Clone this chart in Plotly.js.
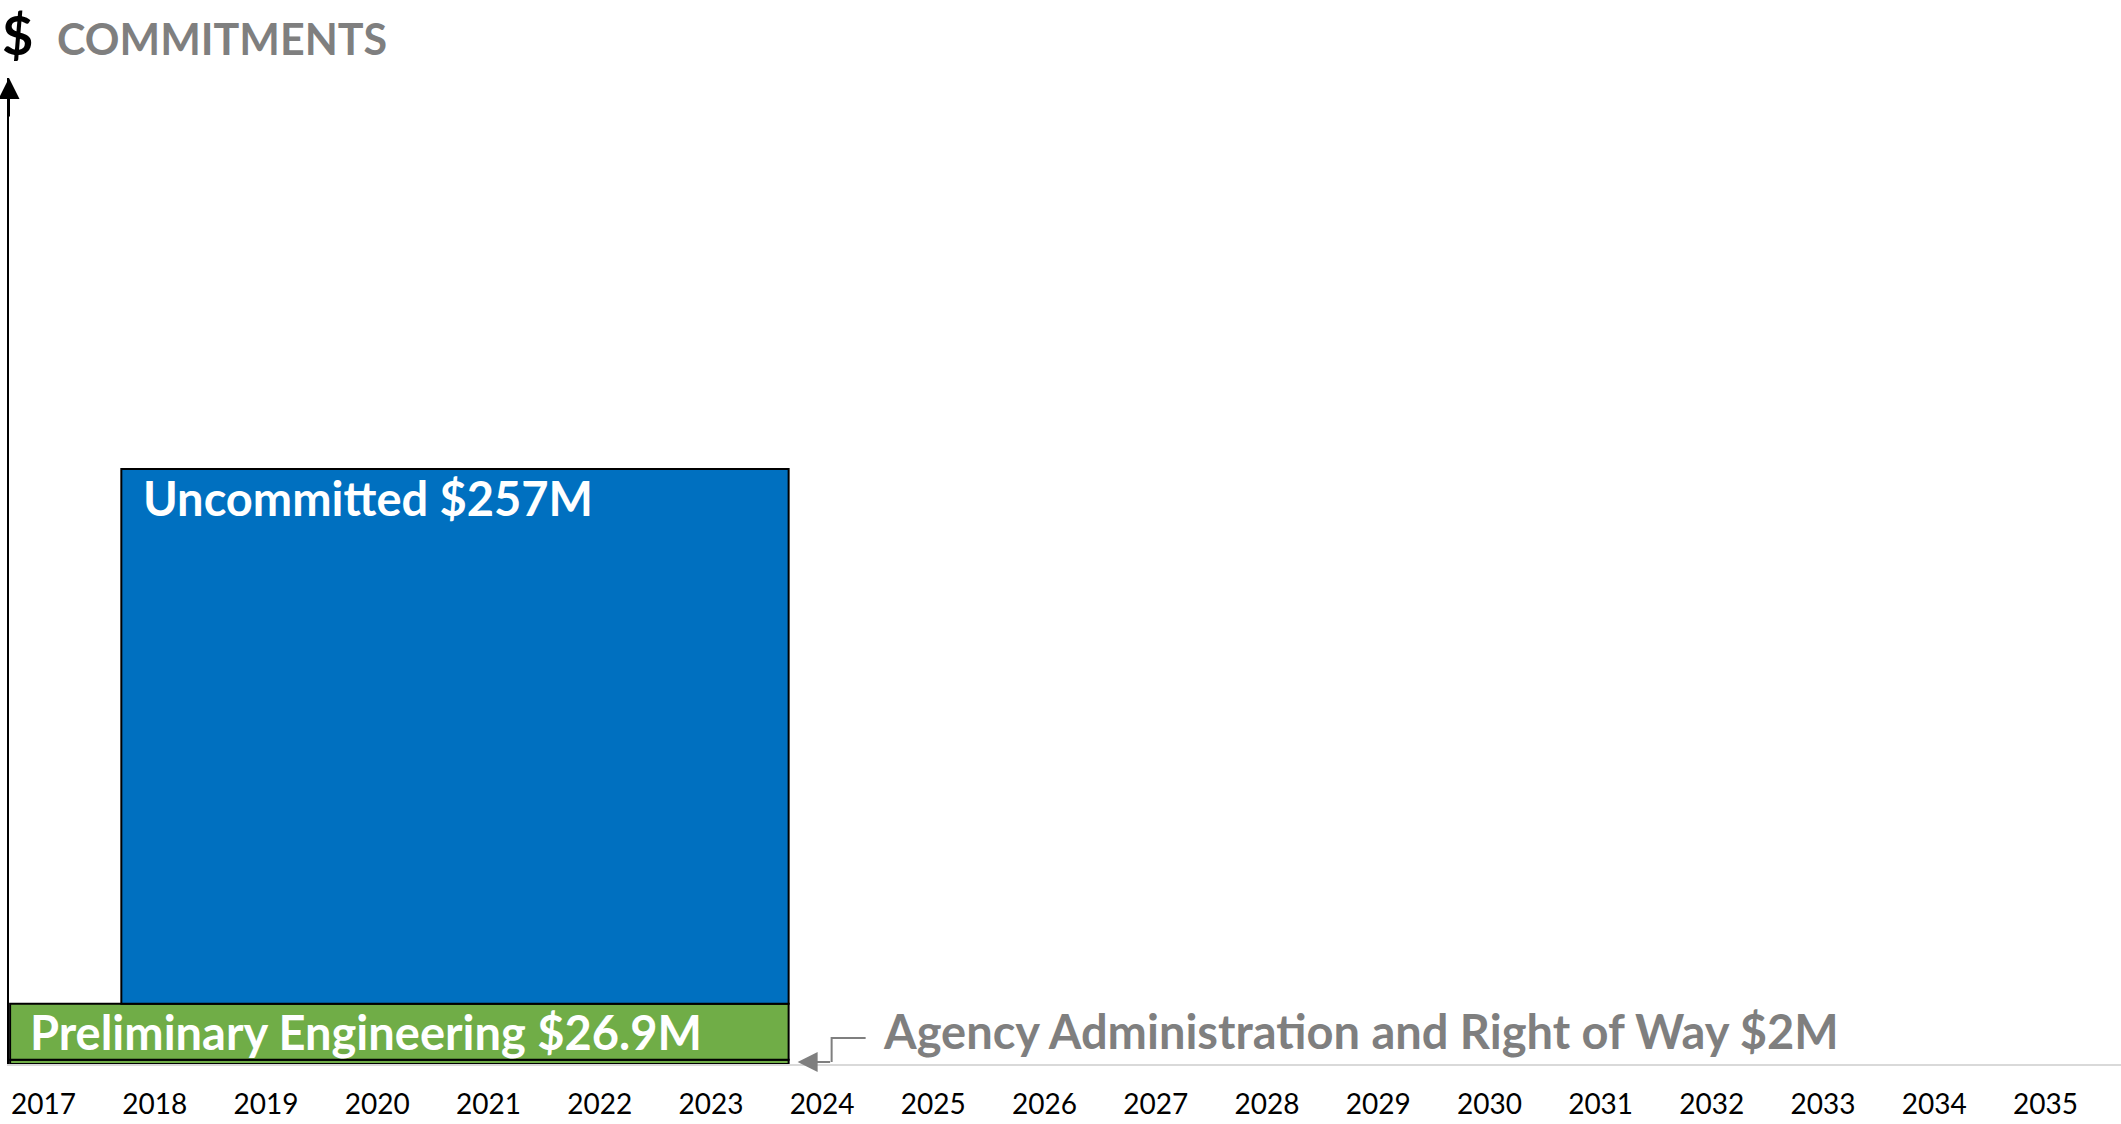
<!DOCTYPE html>
<html>
<head>
<meta charset="utf-8">
<script src="https://cdn.plot.ly/plotly-3.0.1.min.js"></script>
<style>
  html, body { margin: 0; padding: 0; background: #ffffff; }
  #chart { width: 2121px; height: 1124px; }
</style>
</head>
<body>
<div id="chart"></div>
<script>
// ---- Data ----
const segments = ['Agency Administration and Right of Way', 'Preliminary Engineering', 'Uncommitted'];
const amountsM = [2, 26.9, 257];
const startYears = [2017, 2017, 2018];
const endYears = [2024, 2024, 2024];
const years = [2017, 2018, 2019, 2020, 2021, 2022, 2023, 2024, 2025, 2026, 2027, 2028, 2029, 2030, 2031, 2032, 2033, 2034, 2035];
const yearLabels = ['2017', '2018', '2019', '2020', '2021', '2022', '2023', '2024', '2025', '2026', '2027', '2028', '2029', '2030', '2031', '2032', '2033', '2034', '2035'];
const chartTitle = 'COMMITMENTS';
const axisSymbol = '$';

// ---- Styles ----
const segColors = ['#70ad47', '#70ad47', '#0070c0'];
const FONT = 'Lato, "Open Sans", sans-serif';
const GRAY = '#7f7f7f';

// stacked bases
const bases = [];
let acc = 0;
for (let i = 0; i < amountsM.length; i++) { bases.push(acc); acc += amountsM[i]; }

const traces = segments.map((name, i) => ({
  type: 'bar',
  name: name,
  x: [startYears[i]],
  y: [amountsM[i]],
  base: [bases[i]],
  width: [endYears[i] - startYears[i]],
  offset: 0,
  marker: { color: segColors[i], line: { color: '#000000', width: 2 } },
  hoverinfo: 'name+y'
}));

const label = (i) => segments[i] + ' $' + amountsM[i] + 'M';

const annotations = [
  // y axis arrow head
  { xref: 'paper', yref: 'paper', x: 0, y: 1, ax: 0, ay: 40, text: '', showarrow: true,
    arrowhead: 2, arrowsize: 2.1, arrowwidth: 2, arrowcolor: '#000000' },
  // $ symbol
  { xref: 'paper', yref: 'paper', x: 0, y: 1, xanchor: 'left', yanchor: 'middle', xshift: -9, yshift: 44,
    text: '<b>' + axisSymbol + '</b>', showarrow: false, font: { family: FONT, size: 54, color: '#000000' } },
  // title
  { xref: 'paper', yref: 'paper', x: 0, y: 1, xanchor: 'left', yanchor: 'middle', xshift: 46, yshift: 40,
    text: '<b>' + chartTitle + '</b>', showarrow: false, font: { family: FONT, size: 43, color: GRAY } },
  // Uncommitted label
  { xref: 'x', yref: 'y', x: startYears[2], y: bases[2] + amountsM[2], xanchor: 'left', yanchor: 'middle',
    xshift: 20, yshift: -29, text: '<b>' + label(2) + '</b>', showarrow: false,
    font: { family: FONT, size: 47, color: '#ffffff' } },
  // PE label
  { xref: 'x', yref: 'y', x: startYears[1], y: bases[1] + amountsM[1] / 2, xanchor: 'left', yanchor: 'middle',
    xshift: 18, text: '<b>' + label(1) + '</b>', showarrow: false,
    font: { family: FONT, size: 47, color: '#ffffff' } },
  // Agency arrow
  { xref: 'x', yref: 'y', x: endYears[0], y: bases[0] + amountsM[0] / 2, xshift: 9, ax: 34, ay: 0,
    text: '', showarrow: true, arrowhead: 2, arrowsize: 2, arrowwidth: 2, arrowcolor: GRAY },
  // Agency label
  { xref: 'x', yref: 'y', x: endYears[0], y: bases[0] + amountsM[0] / 2, xanchor: 'left', yanchor: 'middle',
    xshift: 92, yshift: 31, text: '<b>' + label(0) + '</b>', showarrow: false,
    font: { family: FONT, size: 47, color: GRAY } }
];

const shapes = [
  { type: 'path', xref: 'x', yref: 'y', xsizemode: 'pixel', ysizemode: 'pixel',
    xanchor: endYears[0], yanchor: bases[0] + amountsM[0] / 2,
    path: 'M 43,0 L 43,24 L 77,24', line: { color: GRAY, width: 2 } }
];

const layout = {
  width: 2121, height: 1124,
  margin: { l: 9, r: 0, t: 78, b: 60 },
  paper_bgcolor: '#ffffff', plot_bgcolor: '#ffffff',
  showlegend: false,
  barmode: 'overlay',
  xaxis: {
    range: [2016.99, 2035.98],
    tickvals: years, ticktext: yearLabels,
    ticklabelposition: 'outside right',
    ticks: '', showgrid: false, zeroline: false,
    showline: true, linecolor: '#d9d9d9', linewidth: 2,
    tickfont: { family: FONT, size: 28, color: '#000000' },
    ticklabelstandoff: 14
  },
  yaxis: {
    range: [0, 473.8],
    showticklabels: false, ticks: '', showgrid: false, zeroline: false,
    showline: true, linecolor: '#000000', linewidth: 2
  },
  annotations: annotations,
  shapes: shapes
};

Plotly.newPlot('chart', traces, layout, { displayModeBar: false, responsive: false });
</script>
</body>
</html>
